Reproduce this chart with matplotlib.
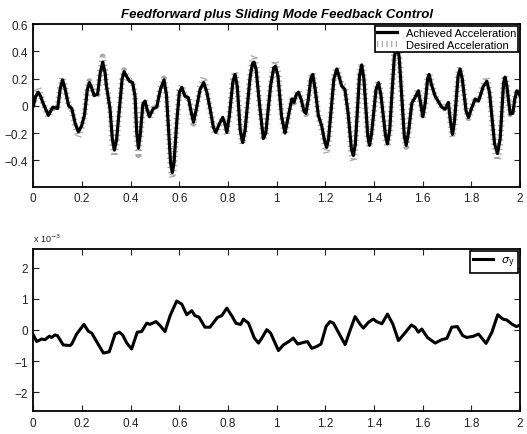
import matplotlib
matplotlib.use("Agg")
from matplotlib import pyplot as plt

plt.rcParams['font.family'] = ['Liberation Sans', 'DejaVu Sans']

# upper plot: achieved / desired acceleration
t_acc = [0.0, 0.01, 0.02, 0.03, 0.04, 0.062, 0.08, 0.1, 0.11, 0.12, 0.13, 0.145, 0.158, 0.172,
         0.185, 0.198, 0.21, 0.222, 0.23, 0.24, 0.25, 0.264, 0.275, 0.285, 0.295, 0.30, 0.315,
         0.325, 0.333, 0.342, 0.355, 0.365, 0.373, 0.385, 0.395, 0.408, 0.418, 0.425, 0.432, 0.44,
         0.45, 0.459, 0.468, 0.477, 0.493, 0.507, 0.522, 0.537, 0.547, 0.555, 0.564, 0.571, 0.578,
         0.59, 0.60, 0.61, 0.623, 0.637, 0.648, 0.658, 0.668, 0.685, 0.70, 0.713, 0.726, 0.74,
         0.75, 0.765, 0.778, 0.787, 0.795, 0.805, 0.82, 0.829, 0.838, 0.85, 0.86, 0.87, 0.89,
         0.90, 0.907, 0.915, 0.93, 0.945, 0.955, 0.975, 0.988, 0.995, 1.005, 1.02, 1.034, 1.045,
         1.062, 1.071, 1.08, 1.089, 1.10, 1.112, 1.12, 1.13, 1.14, 1.148, 1.158, 1.171, 1.185,
         1.197, 1.205, 1.213, 1.235, 1.247, 1.257, 1.267, 1.28, 1.293, 1.307, 1.315, 1.323, 1.34,
         1.349, 1.358, 1.374, 1.381, 1.39, 1.408, 1.418, 1.428, 1.447, 1.455, 1.464, 1.483, 1.493,
         1.503, 1.524, 1.532, 1.541, 1.555, 1.568, 1.582, 1.59, 1.60, 1.61, 1.62, 1.626, 1.635,
         1.651, 1.678, 1.692, 1.705, 1.714, 1.722, 1.73, 1.745, 1.753, 1.762, 1.778, 1.788, 1.80,
         1.815, 1.829, 1.848, 1.863, 1.874, 1.895, 1.907, 1.918, 1.932, 1.938, 1.945, 1.959, 1.97,
         1.978, 1.986, 1.993, 2.0]
achieved = [0.0, 0.07, 0.10, 0.07, 0.02, -0.07, -0.01, -0.02, 0.12, 0.19, 0.13, 0.0, -0.02, -0.13,
            -0.19, -0.15, -0.07, 0.12, 0.17, 0.13, 0.075, 0.085, 0.24, 0.32, 0.24, 0.15, -0.02,
            -0.25, -0.325, -0.25, 0.0, 0.20, 0.25, 0.21, 0.18, 0.17, 0.07, -0.2, -0.31, -0.2,
            0.01, 0.035, -0.03, -0.08, -0.02, -0.01, 0.12, 0.19, 0.08, -0.15, -0.42, -0.49, -0.42,
            -0.1, 0.10, 0.135, 0.07, 0.06, -0.04, -0.12, -0.04, 0.12, 0.17, 0.10, -0.02, -0.16,
            -0.195, -0.13, -0.085, -0.13, -0.195, -0.08, 0.18, 0.23, 0.14, -0.18, -0.27, -0.18, 0.20,
            0.31, 0.32, 0.27, 0.0, -0.24, -0.20, 0.15, 0.28, 0.29, 0.22, -0.08, -0.20, -0.10,
            0.05, 0.025, 0.08, 0.10, 0.05, -0.04, -0.055, 0.05, 0.20, 0.23, 0.12, -0.07, -0.15,
            -0.26, -0.305, -0.24, 0.20, 0.27, 0.21, 0.145, 0.12, -0.05, -0.32, -0.365, -0.28, 0.22,
            0.30, 0.20, -0.22, -0.29, -0.20, 0.12, 0.17, 0.08, -0.22, -0.28, -0.18, 0.36, 0.44,
            0.36, -0.22, -0.29, -0.20, 0.02, 0.06, 0.11, 0.03, -0.08, 0.02, 0.20, 0.23, 0.16,
            0.07, -0.01, -0.025, 0.025, -0.12, -0.21, -0.12, 0.22, 0.27, 0.20, -0.04, -0.085, -0.02,
            0.05, 0.035, 0.14, 0.18, 0.10, -0.28, -0.35, -0.24, 0.17, 0.21, 0.15, -0.06, -0.055,
            0.05, 0.11, 0.10, 0.07]
desired = [0.0, 0.09, 0.13, 0.08, 0.02, -0.08, -0.01, -0.02, 0.13, 0.21, 0.14, 0.0, -0.02, -0.14,
           -0.23, -0.16, -0.07, 0.13, 0.18, 0.13, 0.075, 0.085, 0.26, 0.36, 0.26, 0.15, -0.02,
           -0.28, -0.37, -0.27, 0.0, 0.21, 0.26, 0.21, 0.18, 0.18, 0.07, -0.22, -0.36, -0.22,
           0.01, 0.04, -0.03, -0.09, -0.02, -0.01, 0.13, 0.20, 0.08, -0.16, -0.46, -0.53, -0.45,
           -0.1, 0.11, 0.15, 0.07, 0.06, -0.04, -0.13, -0.04, 0.13, 0.21, 0.11, -0.02, -0.17,
           -0.21, -0.13, -0.09, -0.14, -0.21, -0.08, 0.19, 0.25, 0.15, -0.19, -0.28, -0.18, 0.21,
           0.34, 0.37, 0.29, 0.0, -0.25, -0.20, 0.16, 0.30, 0.33, 0.24, -0.08, -0.21, -0.10,
           0.05, 0.025, 0.08, 0.11, 0.05, -0.04, -0.06, 0.05, 0.21, 0.24, 0.12, -0.07, -0.16,
           -0.29, -0.35, -0.27, 0.21, 0.28, 0.21, 0.16, 0.14, -0.05, -0.35, -0.41, -0.30, 0.23,
           0.31, 0.20, -0.23, -0.30, -0.20, 0.12, 0.18, 0.08, -0.24, -0.30, -0.19, 0.37, 0.46,
           0.37, -0.23, -0.30, -0.20, 0.02, 0.06, 0.12, 0.03, -0.09, 0.02, 0.21, 0.24, 0.17,
           0.07, -0.01, -0.025, 0.025, -0.13, -0.23, -0.13, 0.23, 0.28, 0.20, -0.04, -0.09, -0.02,
           0.05, 0.035, 0.15, 0.21, 0.11, -0.32, -0.40, -0.27, 0.18, 0.22, 0.15, -0.06, -0.055,
           0.05, 0.12, 0.10, 0.07]

# lower plot: sigma_y (x 1e-3)
t_sig = [0.0, 0.014, 0.034, 0.048, 0.066, 0.075, 0.089, 0.099, 0.123, 0.151, 0.158, 0.178, 0.208,
         0.226, 0.24, 0.26, 0.288, 0.312, 0.336, 0.353, 0.367, 0.384, 0.404, 0.427, 0.445, 0.466,
         0.479, 0.504, 0.521, 0.541, 0.562, 0.589, 0.61, 0.63, 0.651, 0.664, 0.681, 0.705, 0.726,
         0.756, 0.774, 0.795, 0.815, 0.833, 0.852, 0.863, 0.884, 0.908, 0.925, 0.938, 0.959, 0.975,
         1.007, 1.027, 1.052, 1.068, 1.086, 1.11, 1.126, 1.144, 1.164, 1.182, 1.203, 1.219, 1.233,
         1.253, 1.281, 1.301, 1.322, 1.342, 1.356, 1.377, 1.397, 1.41, 1.432, 1.455, 1.477, 1.5,
         1.523, 1.553, 1.568, 1.582, 1.596, 1.619, 1.651, 1.678, 1.699, 1.719, 1.742, 1.764, 1.781,
         1.808, 1.829, 1.86, 1.884, 1.908, 1.929, 1.945, 1.966, 1.984, 2.0]
sigma_y = [-0.16, -0.37, -0.29, -0.31, -0.2, -0.24, -0.16, -0.18, -0.48, -0.5, -0.45, -0.13, 0.18,
           -0.04, -0.1, -0.37, -0.74, -0.7, -0.13, -0.07, -0.16, -0.42, -0.61, -0.07, -0.05, 0.22,
           0.18, 0.27, 0.14, -0.05, 0.46, 0.93, 0.83, 0.49, 0.62, 0.46, 0.41, 0.09, 0.09,
           0.4, 0.46, 0.7, 0.46, 0.21, 0.18, 0.35, 0.22, -0.26, -0.42, -0.27, 0.01, -0.1,
           -0.66, -0.48, -0.36, -0.26, -0.45, -0.4, -0.37, -0.59, -0.53, -0.45, 0.12, 0.27, 0.22,
           -0.07, -0.47, -0.02, 0.43, 0.19, 0.06, 0.25, 0.35, 0.27, 0.2, 0.51, 0.19, -0.34,
           -0.13, 0.16, 0.09, -0.07, 0.03, -0.24, -0.42, -0.31, -0.27, 0.09, 0.11, -0.18, -0.24,
           -0.2, -0.13, -0.43, -0.07, 0.49, 0.35, 0.32, 0.19, 0.11, 0.16]

x_ticks = [0, 0.2, 0.4, 0.6, 0.8, 1, 1.2, 1.4, 1.6, 1.8, 2]
x_labels = ['0', '0.2', '0.4', '0.6', '0.8', '1', '1.2', '1.4', '1.6', '1.8', '2']


def style_axes(ax):
    ax.set_xlim(0, 2)
    ax.set_xticks(x_ticks)
    ax.set_xticklabels(x_labels)
    ax.tick_params(direction='in', top=True, right=True, labelsize=8.5, length=4, width=0.8,
                   pad=4, colors='#222222', labelcolor='#222222')
    for s in ax.spines.values():
        s.set_linewidth(1.3)


fig = plt.figure(figsize=(5.27, 4.35), dpi=100)
ax1 = fig.add_axes([0.0632, 0.568, 0.9238, 0.3745])
ax2 = fig.add_axes([0.0632, 0.0529, 0.9238, 0.3724])

ax1.plot(t_acc, desired, color='#a8a8a8', lw=4.5, dashes=(0.2, 0.55), dash_capstyle='butt',
         label='Desired Acceleration', zorder=2)
ax1.plot(t_acc, achieved, color='black', lw=2.3, label='Achieved Acceleration', zorder=3)
style_axes(ax1)
ax1.set_ylim(-0.595, 0.6)
ax1.set_yticks([-0.4, -0.2, 0, 0.2, 0.4, 0.6])
ax1.set_yticklabels(['\u22120.4', '\u22120.2', '0', '0.2', '0.4', '0.6'])
h, l = ax1.get_legend_handles_labels()
leg = ax1.legend(h[::-1], l[::-1], loc='upper right', fontsize=8, fancybox=False,
                 edgecolor='black', framealpha=1, borderpad=0.2, handlelength=1.8,
                 labelspacing=0.15, borderaxespad=0.15, handletextpad=0.8)
leg.get_frame().set_linewidth(1.2)
ax1.set_title('Feedforward plus Sliding Mode Feedback Control', fontsize=9.5,
              fontweight='bold', fontstyle='italic', pad=5)

ax2.plot(t_sig, sigma_y, color='black', lw=2.2, label=r'$\sigma_{\mathrm{y}}$')
style_axes(ax2)
ax2.set_ylim(-2.6, 2.6)
ax2.set_yticks([-2, -1, 0, 1, 2])
ax2.set_yticklabels(['\u22122', '\u22121', '0', '1', '2'])
leg2 = ax2.legend(loc='upper right', fontsize=8, fancybox=False, edgecolor='black',
                  framealpha=1, borderpad=0.35, handlelength=1.8, borderaxespad=0.15,
                  handletextpad=0.7)
leg2.get_frame().set_linewidth(1.2)
ax2.text(0.0, 1.03, r'x 10$^{-3}$', transform=ax2.transAxes, fontsize=6.5, va='bottom',
         color='#222222')

fig.savefig('out.png', dpi=100)
